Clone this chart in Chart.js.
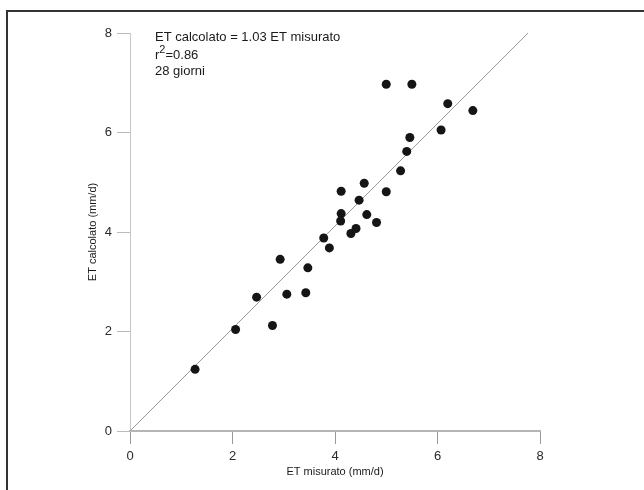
<!DOCTYPE html>
<html>
<head>
<meta charset="utf-8">
<script src="https://cdn.jsdelivr.net/npm/chart.js@4"></script>
<style>
    html, body { margin: 0; padding: 0; background: #fff; overflow: hidden; }
    #wrap { position: relative; width: 644px; height: 490px; }
    #frame { position: absolute; left: 6px; top: 10px; width: 700px; height: 600px; border: 2px solid #333; }
    #chart { position: absolute; left: 0; top: 0; }
</style>
</head>
<body>
<div id="wrap">
    <div id="frame"></div>
    <canvas id="chart" width="644" height="490"></canvas>
</div>
<script>
// ET misurato (x) / ET calcolato (y), mm/d - 28 giorni
const etMisurato = [1.27, 2.06, 2.47, 2.78, 2.93, 3.06, 3.47, 3.43, 3.78, 3.89,
    4.12, 4.12, 4.11, 4.31, 4.41, 4.47, 4.57, 4.62, 4.81, 5.00,
    5.28, 5.40, 5.00, 5.50, 6.20, 6.69, 6.07, 5.46];
const etCalcolato = [1.24, 2.04, 2.69, 2.12, 3.45, 2.75, 3.28, 2.78, 3.88, 3.68,
    4.82, 4.37, 4.22, 3.97, 4.07, 4.64, 4.98, 4.35, 4.19, 4.81,
    5.23, 5.62, 6.97, 6.97, 6.58, 6.44, 6.05, 5.90];
const axisTicks = [0, 2, 4, 6, 8];
const slope = 1.03;
const annotation = ["ET calcolato = 1.03 ET misurato", "r", "2", "=0.86", "28 giorni"];

const axisMax = axisTicks[axisTicks.length - 1];
const points = etMisurato.map((x, i) => ({ x: x, y: etCalcolato[i] }));
const fitLine = [{ x: 0, y: 0 }, { x: axisMax / slope, y: axisMax }];

// testo in alto a sinistra
const notePlugin = {
    id: 'note',
    afterDraw(chart) {
        const ctx = chart.ctx;
        ctx.save();
        ctx.fillStyle = '#1a1a1a';
        ctx.textBaseline = 'middle';
        ctx.textAlign = 'left';
        ctx.font = '13px "Liberation Sans", Arial, sans-serif';
        const x0 = 155;
        ctx.fillText(annotation[0], x0, 37);
        ctx.fillText(annotation[1], x0, 55);
        let w = ctx.measureText(annotation[1]).width;
        ctx.font = '11px "Liberation Sans", Arial, sans-serif';
        ctx.fillText(annotation[2], x0 + w, 50);
        w += ctx.measureText(annotation[2]).width;
        ctx.font = '13px "Liberation Sans", Arial, sans-serif';
        ctx.fillText(annotation[3], x0 + w, 55);
        ctx.fillText(annotation[4], x0, 71);
        ctx.restore();
    }
};

const tickFont = { family: '"Liberation Sans", Arial, sans-serif', size: 13 };
const titleFont = { family: '"Liberation Sans", Arial, sans-serif', size: 11 };

new Chart(document.getElementById('chart').getContext('2d'), {
    type: 'scatter',
    data: {
        datasets: [
            {
                label: 'ET',
                data: points,
                backgroundColor: '#151515',
                borderColor: '#151515',
                pointRadius: 4.5,
                pointBorderWidth: 0
            },
            {
                label: 'fit',
                data: fitLine,
                showLine: true,
                borderColor: '#9a9a9a',
                borderWidth: 1,
                pointRadius: 0,
                fill: false
            }
        ]
    },
    options: {
        responsive: false,
        animation: false,
        events: [],
        layout: { padding: { left: 80, top: 33, right: 104, bottom: 0 } },
        plugins: {
            legend: { display: false },
            tooltip: { enabled: false }
        },
        scales: {
            x: {
                type: 'linear',
                min: 0,
                max: axisMax,
                afterBuildTicks: scale => { scale.ticks = axisTicks.map(v => ({ value: v })); },
                afterFit: scale => { scale.height = 59; },
                ticks: { color: '#2a2a2a', font: tickFont, padding: 5 },
                grid: { drawOnChartArea: false, drawTicks: true, tickLength: 13, color: '#999', lineWidth: 1 },
                border: { display: true, color: '#b5b5b5', width: 2 },
                title: {
                    display: true,
                    text: 'ET misurato (mm/d)',
                    color: '#1a1a1a',
                    font: titleFont,
                    padding: { top: 0, bottom: 11 }
                }
            },
            y: {
                type: 'linear',
                min: 0,
                max: axisMax,
                afterBuildTicks: scale => { scale.ticks = axisTicks.map(v => ({ value: v })); },
                afterFit: scale => { scale.width = 50; },
                ticks: { color: '#2a2a2a', font: tickFont, padding: 5 },
                grid: { drawOnChartArea: false, drawTicks: true, tickLength: 13, color: '#bbb', lineWidth: 1 },
                border: { display: true, color: '#c8c8c8', width: 1 },
                title: {
                    display: true,
                    text: 'ET calcolato (mm/d)',
                    color: '#1a1a1a',
                    font: titleFont,
                    padding: { top: 6, bottom: 0 }
                }
            }
        }
    },
    plugins: [notePlugin]
});
</script>
</body>
</html>
